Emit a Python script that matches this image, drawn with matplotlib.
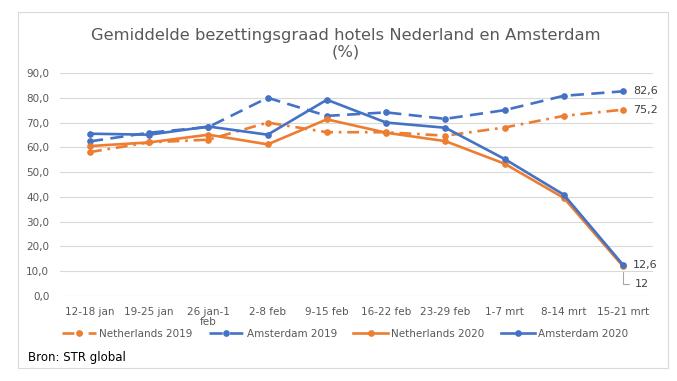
import matplotlib
matplotlib.use("Agg")
import matplotlib.pyplot as plt
from matplotlib.patches import Rectangle
from matplotlib.ticker import FuncFormatter

weeks = ["12-18 jan", "19-25 jan", "26 jan-1\nfeb", "2-8 feb", "9-15 feb",
         "16-22 feb", "23-29 feb", "1-7 mrt", "8-14 mrt", "15-21 mrt"]
nl_2019 = [58.1, 62.0, 63.1, 70.0, 66.1, 66.1, 64.7, 68.0, 72.7, 75.2]
ams_2019 = [62.4, 65.9, 68.2, 80.0, 72.7, 74.1, 71.5, 75.0, 80.8, 82.6]
nl_2020 = [60.5, 62.0, 65.1, 61.2, 71.3, 65.9, 62.5, 53.4, 39.6, 12.0]
ams_2020 = [65.5, 65.1, 68.4, 65.1, 79.2, 70.0, 67.9, 55.3, 40.9, 12.6]

ORANGE = "#ED7D31"
BLUE = "#4472C4"
GREY = "#595959"

W, H = 677, 381
fig = plt.figure(figsize=(W / 100, H / 100), dpi=100)
fig.patch.set_facecolor("white")

# outer chart border
fig.patches.append(Rectangle((18 / W, 1 - 368 / H), 650 / W, 356 / H,
                             transform=fig.transFigure, fill=False,
                             edgecolor="#D9D9D9", lw=0.8))

ax = fig.add_axes([60.4 / W, 1 - 296 / H, 592.2 / W, 223 / H])
x = range(len(weeks))

style = dict(lw=1.9, marker="o", ms=3.8)
ax.plot(x, nl_2019, color=ORANGE, dashes=(4.5, 2.2, 1, 2.2),
        label="Netherlands 2019", zorder=3, **style)
ax.plot(x, ams_2019, color=BLUE, dashes=(5, 2.8),
        label="Amsterdam 2019", zorder=3, **style)
ax.plot(x, nl_2020, color=ORANGE, label="Netherlands 2020", zorder=3, **style)
ax.plot(x, ams_2020, color=BLUE, label="Amsterdam 2020", zorder=4, **style)

ax.set_xlim(-0.5, len(weeks) - 0.5)
ax.set_ylim(0, 90)
ax.set_yticks(range(0, 91, 10))
ax.yaxis.set_major_formatter(FuncFormatter(lambda v, p: f"{v:.1f}".replace(".", ",")))
ax.set_xticks(list(x))
ax.set_xticklabels(weeks, linespacing=0.95)
ax.tick_params(length=0, labelsize=7.5, colors=GREY)
ax.tick_params(axis="x", pad=8)
ax.tick_params(axis="y", pad=8)
ax.grid(axis="y", color="#D9D9D9", lw=0.8)
ax.set_axisbelow(True)
for s in ax.spines.values():
    s.set_visible(False)

last = len(weeks) - 1
lbl = dict(fontsize=8, color="#404040", va="center", ha="left",
           textcoords="offset pixels", annotation_clip=False)
ax.annotate(f"{ams_2019[-1]:.1f}".replace(".", ","), (last, ams_2019[-1]),
            xytext=(10, 0), **lbl)
ax.annotate(f"{nl_2019[-1]:.1f}".replace(".", ","), (last, nl_2019[-1]),
            xytext=(10, 0), **lbl)
ax.annotate(f"{ams_2020[-1]:.1f}".replace(".", ","), (last, ams_2020[-1]),
            xytext=(10, 0), **lbl)
ax.annotate(f"{nl_2020[-1]:g}", (last, nl_2020[-1]), xytext=(12, -18),
            arrowprops=dict(arrowstyle="-", color="#A6A6A6", lw=0.8,
                            connectionstyle="angle,angleA=0,angleB=90,rad=0",
                            shrinkA=2, shrinkB=4),
            **lbl)

fig.text(346 / W, 1 - 43.5 / H,
         "Gemiddelde bezettingsgraad hotels Nederland en Amsterdam\n(%)",
         ha="center", va="center", fontsize=11.8, color=GREY, linespacing=1.15)

fig.legend(loc="center", bbox_to_anchor=(345 / W, 1 - 334 / H), ncol=4,
           frameon=False, fontsize=7.5, labelcolor=GREY, handlelength=3.3,
           handletextpad=0.3, columnspacing=1.6, borderaxespad=0)

fig.text(28 / W, 1 - 358 / H, "Bron: STR global", ha="left", va="center",
         fontsize=8.5, color="black")

fig.savefig("out.png", dpi=100)
